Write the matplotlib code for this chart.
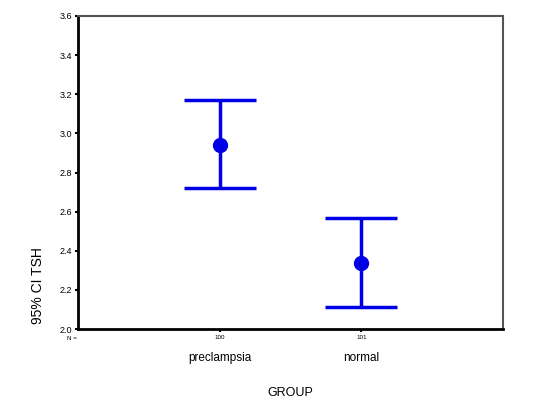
import numpy as np
import matplotlib.pyplot as plt

plt.rcParams['font.family'] = ['Liberation Sans', 'DejaVu Sans']

# donnees
groups = ['preclampsia', 'normal']
counts = ['100', '101']
means = [2.94, 2.34]
upper = [3.17, 2.57]
lower = [2.72, 2.11]

blue = '#0000e6'
fig = plt.figure(figsize=(5.44, 4.07), dpi=100)
ax = fig.add_axes([0.1434, 0.1916, 0.7812, 0.7691])

x = np.arange(1, len(groups) + 1)
m = np.array(means)
err = np.array([m - np.array(lower), np.array(upper) - m])
ax.errorbar(x, m, yerr=err, fmt='o', color=blue, ecolor=blue,
            elinewidth=2.5, capsize=26, capthick=2.5, markersize=10)

ax.set_xlim(0, 3)
ax.set_ylim(2.0, 3.6)
ax.set_yticks(np.arange(2.0, 3.61, 0.2))
ax.set_yticklabels(['%.1f' % v for v in np.arange(2.0, 3.61, 0.2)], fontsize=6.5)
ax.set_xticks(x)
ax.set_xticklabels(counts, fontsize=4.5)
ax.tick_params(axis='both', length=2, width=1.5, direction='out', pad=2)

for s in ax.spines.values():
    s.set_linewidth(1.5)
    s.set_color('#555555')
ax.spines['left'].set_color('black')
ax.spines['bottom'].set_color('black')
ax.spines['left'].set_linewidth(2)
ax.spines['bottom'].set_linewidth(2)

# N = a gauche
fig.text(72 / 544, 1 - 339 / 407, 'N =', fontsize=4.5, ha='center', va='center')
for xi, g in zip(x, groups):
    ax.annotate(g, xy=(xi, 2.0), xycoords='data', xytext=(0, -21),
                textcoords='offset points', ha='center', va='center', fontsize=8.5)

fig.text(290 / 544, 1 - 393 / 407, 'GROUP', fontsize=9, ha='center', va='center')
fig.text(38 / 544, 1 - 286 / 407, '95% CI TSH', fontsize=10, ha='center', va='center',
         rotation=90)

fig.savefig('out.png', dpi=100)
